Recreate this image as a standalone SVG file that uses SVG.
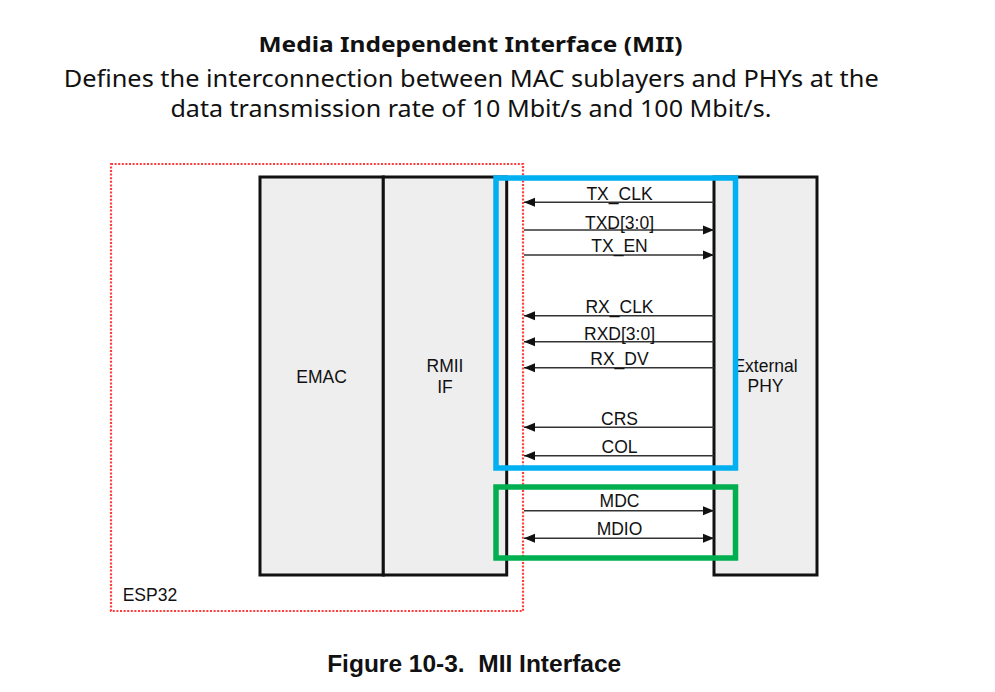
<svg xmlns="http://www.w3.org/2000/svg" width="995" height="692" viewBox="0 0 995 692">
<style>
.hdr{font-family:"Noto Sans","Open Sans",sans-serif;fill:#111;text-anchor:middle}
.lbl{font-family:"Liberation Sans",Arial,sans-serif;font-size:17.5px;fill:#111;text-anchor:middle}
.box{fill:#eeeeee;stroke:#111;stroke-width:3}
.sig{stroke:#333;stroke-width:1.4;fill:none}
.l{marker-start:url(#arrL)}
.r{marker-end:url(#arrR)}
</style>
<defs>
<marker id="arrR" markerUnits="userSpaceOnUse" markerWidth="12" markerHeight="10" refX="11" refY="5" orient="auto" viewBox="0 0 12 10"><path d="M0,0.5 L11,5 L0,9.5 Z" fill="#111"/></marker>
<marker id="arrL" markerUnits="userSpaceOnUse" markerWidth="12" markerHeight="10" refX="0" refY="5" orient="auto" viewBox="0 0 12 10"><path d="M11,0.5 L0,5 L11,9.5 Z" fill="#111"/></marker>
</defs>
<rect width="995" height="692" fill="#ffffff"/>
<g id="title">
<text class="hdr" x="470.5" y="51.5" font-size="22" font-weight="bold" textLength="424" lengthAdjust="spacingAndGlyphs">Media Independent Interface (MII)</text>
<text class="hdr" x="471.2" y="86.5" font-size="24" textLength="815" lengthAdjust="spacingAndGlyphs">Defines the interconnection between MAC sublayers and PHYs at the</text>
<text class="hdr" x="470.9" y="116.5" font-size="24" textLength="601" lengthAdjust="spacingAndGlyphs">data transmission rate of 10 Mbit/s and 100 Mbit/s.</text>
</g>
<g id="esp32">
<rect x="111" y="164" width="412" height="447" fill="none" stroke="#ff3b3b" stroke-width="2.2" stroke-dasharray="2 1.6"/>
<text class="lbl" x="122.7" y="600.7" style="text-anchor:start">ESP32</text>
</g>
<g id="emac">
<rect class="box" x="260" y="177" width="123.3" height="398"/>
<text class="lbl" x="321.6" y="382.7">EMAC</text>
</g>
<g id="rmii">
<rect class="box" x="383.3" y="177" width="123.4" height="398"/>
<text class="lbl" x="445" y="372.3">RMII</text>
<text class="lbl" x="445" y="392.7">IF</text>
</g>
<g id="phy">
<rect class="box" x="714" y="177" width="103" height="398"/>
<text class="lbl" x="765.5" y="371.7">External</text>
<text class="lbl" x="765.5" y="391.7">PHY</text>
</g>
<g id="connectors">
<line class="sig l" x1="524" y1="202.3" x2="714" y2="202.3"/>
<line class="sig r" x1="524" y1="230" x2="714" y2="230"/>
<line class="sig r" x1="524" y1="255" x2="714" y2="255"/>
<line class="sig l" x1="524" y1="315.7" x2="714" y2="315.7"/>
<line class="sig l" x1="524" y1="341.7" x2="714" y2="341.7"/>
<line class="sig l" x1="524" y1="367.7" x2="714" y2="367.7"/>
<line class="sig l" x1="524" y1="427.3" x2="714" y2="427.3"/>
<line class="sig l" x1="524" y1="455.7" x2="714" y2="455.7"/>
<line class="sig r" x1="524" y1="510.7" x2="714" y2="510.7"/>
<line class="sig l r" x1="524" y1="538.3" x2="714" y2="538.3"/>
<text class="lbl" x="619.5" y="199.5">TX_CLK</text>
<text class="lbl" x="619.5" y="228.5">TXD[3:0]</text>
<text class="lbl" x="619.5" y="252">TX_EN</text>
<text class="lbl" x="619.5" y="313.2">RX_CLK</text>
<text class="lbl" x="619.5" y="339.8">RXD[3:0]</text>
<text class="lbl" x="619.5" y="365">RX_DV</text>
<text class="lbl" x="619.5" y="425">CRS</text>
<text class="lbl" x="619.5" y="453.3">COL</text>
<text class="lbl" x="619.5" y="507.3">MDC</text>
<text class="lbl" x="619.5" y="535">MDIO</text>
</g>
<g id="highlights">
<rect x="496" y="178" width="239.5" height="290" fill="none" stroke="#00b0f0" stroke-width="5.5"/>
<rect x="496" y="487" width="239.5" height="71" fill="none" stroke="#00b050" stroke-width="5.5"/>
</g>
<g id="caption">
<text x="474.2" y="671.7" font-family="Liberation Sans, Arial, sans-serif" font-size="24.5" font-weight="bold" fill="#111" text-anchor="middle" xml:space="preserve">Figure 10-3.  MII Interface</text>
</g>
</svg>
